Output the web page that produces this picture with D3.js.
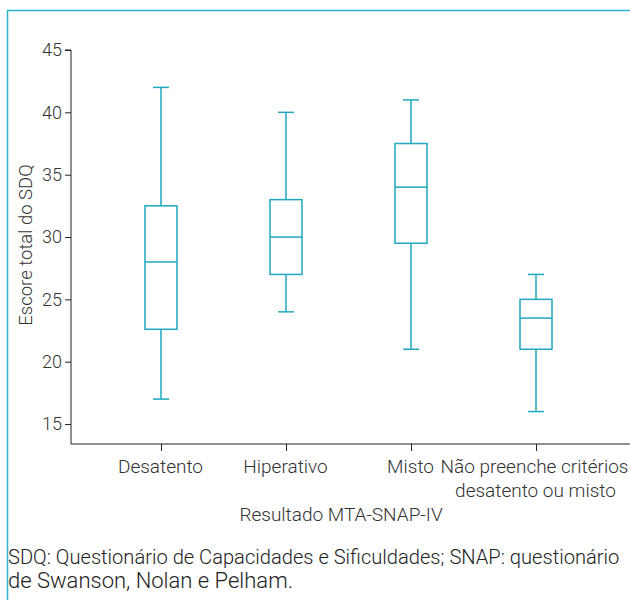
<!DOCTYPE html>
<html><head><meta charset="utf-8">
<script src="https://cdn.jsdelivr.net/npm/d3@7"></script>
<style>body{margin:0;background:#fff}svg{display:block}text{font-family:Roboto,"Open Sans",sans-serif;fill:#333}</style>
</head><body><svg id="c" width="630" height="600"></svg>
<script>
const categories = ["Desatento","Hiperativo","Misto","Não preenche critérios"];
const minVals    = [17, 24, 21, 16];
const q1Vals     = [22.6, 27, 29.5, 21];
const medVals    = [28, 30, 34, 23.5];
const q3Vals     = [32.5, 33, 37.5, 25];
const maxVals    = [42, 40, 41, 27];
const yTicks     = [15, 20, 25, 30, 35, 40, 45];

const svg = d3.select("#c");
const teal = "#1fa8c0";
// frame
svg.append("path").attr("d","M7.5,600V10.5H630").attr("fill","none").attr("stroke","#2bb3cb").attr("stroke-width",1.5);

const x = d3.scalePoint().domain(categories).range([161, 536]);
const y = d3.scaleLinear().domain([13.4, 45]).range([444, 50]);

const ya = svg.append("g").attr("transform","translate(71,0)")
  .call(d3.axisLeft(y).tickValues(yTicks).tickSize(6).tickSizeOuter(0));
ya.select(".domain").attr("d","M-6,50H0V444").attr("stroke","#222");
ya.selectAll(".tick line").attr("stroke","#222");
ya.selectAll(".tick text").attr("font-size",18).attr("fill","#333").attr("font-weight",300).attr("x",-9);

const xa = svg.append("g").attr("transform","translate(0,444)")
  .call(d3.axisBottom(x).tickSize(7).tickSizeOuter(0));
xa.select(".domain").attr("d","M71,0H630").attr("stroke","#222");
xa.selectAll(".tick line").attr("stroke","#222");
xa.selectAll(".tick text").remove();
xa.selectAll(".tick").each(function(d){
  const g = d3.select(this);
  if (d === "Não preenche critérios") {
    g.append("text").attr("y",29).attr("text-anchor","middle").attr("font-size",19).attr("font-weight",300).attr("x",-2).text("Não preenche critérios");
    g.append("text").attr("y",53).attr("text-anchor","middle").attr("font-size",19).attr("font-weight",300).attr("x",-1).text("desatento ou misto");
  } else {
    g.append("text").attr("y",29).attr("text-anchor","middle").attr("font-size",19).attr("font-weight",300).attr("x",-1).text(d);
  }
});

const bw = 32, cw = 16;
categories.forEach((c,i)=>{
  const cx = x(c);
  const g = svg.append("g").attr("stroke",teal).attr("fill","none").attr("stroke-width",1.5);
  g.append("line").attr("x1",cx).attr("x2",cx).attr("y1",y(maxVals[i])).attr("y2",y(q3Vals[i]));
  g.append("line").attr("x1",cx).attr("x2",cx).attr("y1",y(q1Vals[i])).attr("y2",y(minVals[i]));
  g.append("line").attr("x1",cx-cw/2).attr("x2",cx+cw/2).attr("y1",y(maxVals[i])).attr("y2",y(maxVals[i]));
  g.append("line").attr("x1",cx-cw/2).attr("x2",cx+cw/2).attr("y1",y(minVals[i])).attr("y2",y(minVals[i]));
  g.append("rect").attr("x",cx-bw/2).attr("width",bw).attr("y",y(q3Vals[i])).attr("height",y(q1Vals[i])-y(q3Vals[i]));
  g.append("line").attr("x1",cx-bw/2).attr("x2",cx+bw/2).attr("y1",y(medVals[i])).attr("y2",y(medVals[i]));
});

svg.append("text").attr("transform","translate(32,245) rotate(-90)").attr("text-anchor","middle")
  .attr("font-size",18.5).attr("font-weight",300).text("Escore total do SDQ");
svg.append("text").attr("x",341).attr("y",521).attr("text-anchor","middle")
  .attr("font-size",19).attr("font-weight",300).text("Resultado MTA-SNAP-IV");
const cap1 = svg.append("text").attr("x",0).attr("y",0).attr("font-size",21).attr("font-weight",300).style("fill","#222")
  .text("SDQ: Questionário de Capacidades e Sificuldades; SNAP: questionário");
const w1 = cap1.node().getComputedTextLength();
cap1.attr("transform",`translate(8,564) scale(${612/w1},1)`);
svg.append("text").attr("x",8).attr("y",588).attr("font-size",22).attr("font-weight",300).style("fill","#222")
  .text("de Swanson, Nolan e Pelham.");
</script></body></html>
